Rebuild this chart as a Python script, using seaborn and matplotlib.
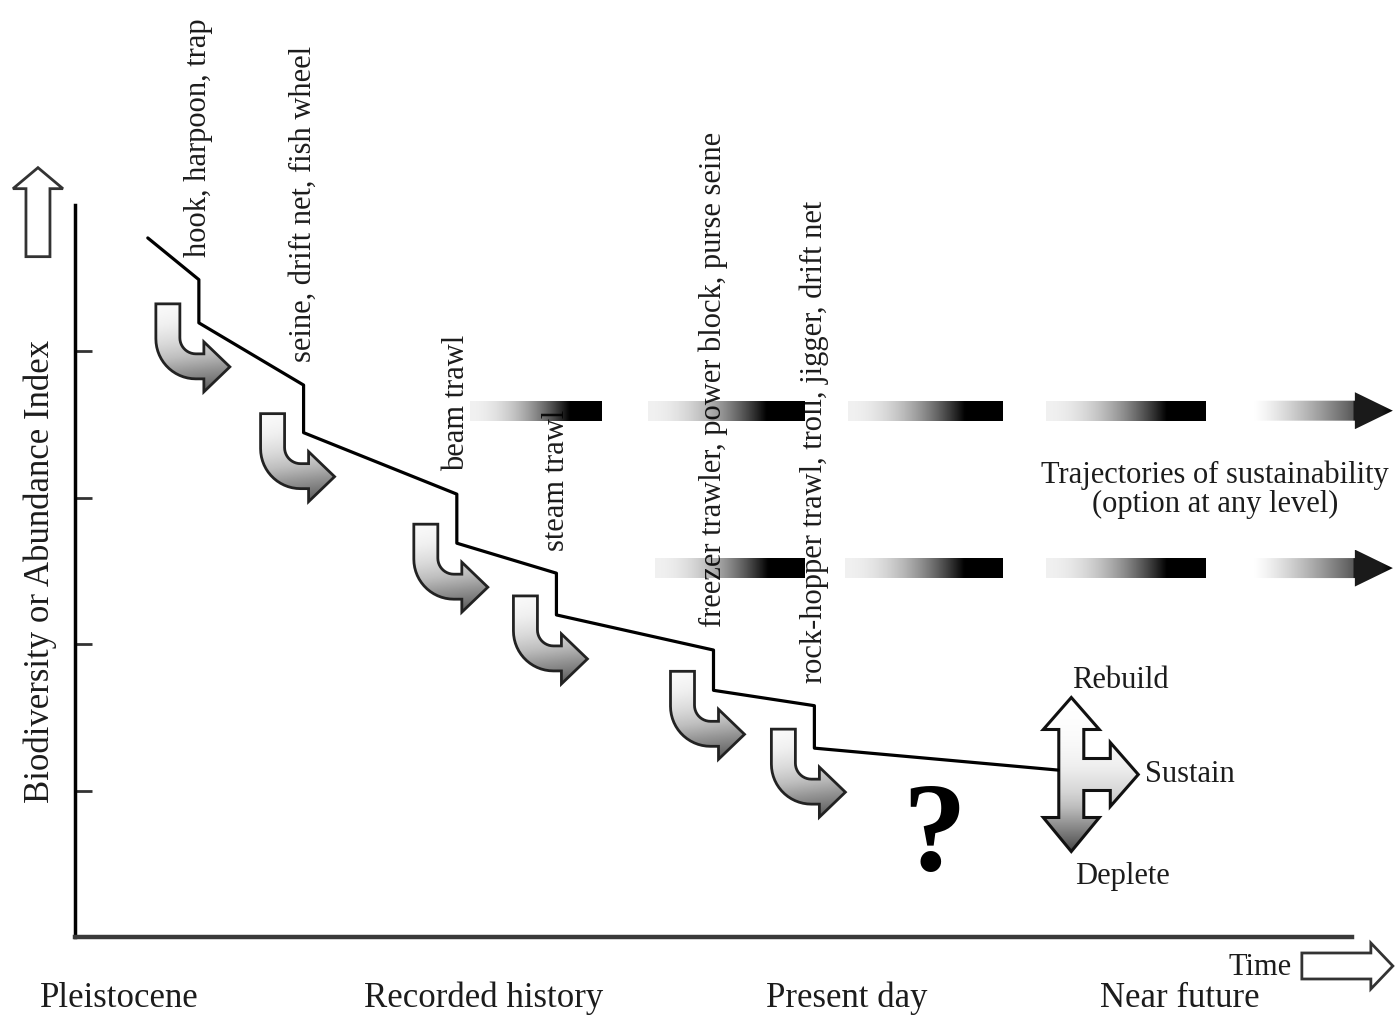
import matplotlib
matplotlib.use('Agg')
import matplotlib.pyplot as plt
import numpy as np
import pandas as pd
import seaborn as sns
from matplotlib.patches import Polygon

# biodiversity staircase: each new gear causes a drop in the index
start_x, start_y = 5.7, 95.5
gear_x = [9.7, 17.9, 29.9, 37.7, 50.0, 57.9]
level_before = [89.8, 75.4, 60.5, 49.7, 39.2, 31.6]
level_after = [83.9, 68.9, 53.8, 44.0, 33.7, 25.8]
end_x, end_y = 77.0, 22.8
gear_labels = ['hook, harpoon, trap',
               'seine, drift net, fish wheel',
               'beam trawl',
               'steam trawl',
               'freezer trawler, power block, purse seine',
               'rock-hopper trawl, troll, jigger, drift net']

y_ticks = [20, 40, 60, 80]

# trajectories of sustainability (two example levels)
traj_levels = [71.9, 50.4]
traj_starts = [[30.9, 44.9, 60.5, 76.0, 92.2],
               [45.4, 60.3, 76.0, 92.2]]
traj_ends = [[41.3, 57.2, 72.7, 88.6, 103.2],
             [57.2, 72.7, 88.6, 103.2]]

era_labels = ['Pleistocene', 'Recorded history', 'Present day', 'Near future']
era_x = [3.5, 32.0, 60.4, 86.5]

options = ['Rebuild', 'Sustain', 'Deplete']

# pixel -> data scale (axis spans 0..100 on both directions)
SX, SY = 12.77, 7.32

sns.set_theme(style='white')
plt.rcParams['font.family'] = ['Liberation Serif', 'DejaVu Serif']
TXT = '#1c1c1c'

fig = plt.figure(figsize=(13.95, 10.16), dpi=100)
ax = fig.add_axes([0, 0, 1, 1])
ax.set_facecolor('white')


def px(x0, y0, pts):
    # convert pixel offsets (x right, y up) into data coords around (x0, y0)
    return [(x0 + dx / SX, y0 + dy / SY) for dx, dy in pts]


def gradient_fill(verts, values, cmap='Greys', zorder=3, edge='#222222', lw=2.0, rgba=None):
    poly = Polygon(verts, closed=True, facecolor='none', edgecolor=edge, lw=lw, zorder=zorder + 0.1)
    ax.add_patch(poly)
    xs = [v[0] for v in verts]
    ys = [v[1] for v in verts]
    ext = [min(xs), max(xs), min(ys), max(ys)]
    if rgba is not None:
        im = ax.imshow(rgba, extent=ext, origin='lower', aspect='auto',
                       interpolation='bilinear', zorder=zorder)
    else:
        im = ax.imshow(values, extent=ext, origin='lower', aspect='auto', cmap=cmap,
                       vmin=0, vmax=1, interpolation='bilinear', zorder=zorder)
    im.set_clip_path(poly)


# ---- staircase line
line_x = [start_x]
line_y = [start_y]
for gx, yb, ya in zip(gear_x, level_before, level_after):
    line_x += [gx, gx]
    line_y += [yb, ya]
line_x.append(end_x)
line_y.append(end_y)
df = pd.DataFrame({'time': line_x, 'index': line_y})
sns.lineplot(data=df, x='time', y='index', ax=ax, estimator=None, sort=False,
             color='black', linewidth=2.3, zorder=4)

# ---- gear labels
for gx, yb, lab in zip(gear_x, level_before, gear_labels):
    ax.text(gx, yb + 3.1, lab, rotation=90, ha='center', va='bottom',
            fontsize=22, color=TXT, zorder=2)

# ---- curved U arrows below each drop
W = 24
inner = [(W + 16 + 16 * np.cos(a), -34 + 16 * np.sin(a)) for a in np.linspace(np.pi, 1.5 * np.pi, 12)]
outer = [(40 + 40 * np.cos(a), -35 + 40 * np.sin(a)) for a in np.linspace(1.5 * np.pi, np.pi, 16)]
u_shape = [(0, 0), (W, 0)] + inner + [(48, -50), (48, -38), (74, -63), (48, -88), (48, -75)] + outer
gy = np.linspace(0, 1, 60)[:, None]
gxx = np.linspace(0, 1, 40)[None, :]
u_vals = 0.62 * (1 - gy) ** 1.4 + 0.04 + 0.08 * gxx
for gx, ya in zip(gear_x, level_after):
    verts = px(gx - 43 / SX, ya + 19 / SY, u_shape)
    gradient_fill(verts, u_vals, zorder=3)

# ---- trajectories of sustainability
half_bar, half_head, head_len = 10 / SY, 18.5 / SY, 38 / SX
for lvl, starts, ends in zip(traj_levels, traj_starts, traj_ends):
    for i, (s, e) in enumerate(zip(starts, ends)):
        t = np.linspace(0, 1, 200)
        last = i == len(starts) - 1
        if last:
            a = np.clip(t, 0, 1) ** 1.3
            a = np.where(t > 0.72, np.maximum(a, 0.9), a)
        else:
            a = 0.06 + 0.94 * np.clip(t / 0.75, 0, 1) ** 2
        rgba = np.zeros((2, len(t), 4))
        rgba[..., 3] = a[None, :]
        if last:
            hb = e - head_len
            verts = [(s, lvl - half_bar), (hb, lvl - half_bar), (hb, lvl - half_head), (e, lvl),
                     (hb, lvl + half_head), (hb, lvl + half_bar), (s, lvl + half_bar)]
        else:
            verts = [(s, lvl - half_bar), (e, lvl - half_bar), (e, lvl + half_bar), (s, lvl + half_bar)]
        gradient_fill(verts, None, zorder=3, edge='none', lw=0, rgba=rgba)

ax.text(89.3, 61.1, 'Trajectories of sustainability\n(option at any level)', ha='center',
        va='center', fontsize=22, color=TXT, linespacing=1.0)

# ---- rebuild / sustain / deplete cross arrow
cx, cy = end_x + 13 / SX, end_y - 0.6
cross = [(0, 77), (28, 45), (12.5, 45), (12.5, 16), (39, 16), (39, 32), (67, 0), (39, -32),
         (39, -16), (12.5, -16), (12.5, -43), (28, -43), (0, -77), (-28, -43), (-12.5, -43),
         (-12.5, 45), (-28, 45)]
cy_vals = 0.78 * (1 - np.linspace(0, 1, 80)) ** 2.2
gradient_fill(px(cx, cy, cross), np.tile(cy_vals[:, None], (1, 10)), zorder=3, edge='#111111', lw=2.2)
ax.text(cx + 49 / SX, cy + 94 / SY, options[0], ha='center', va='center', fontsize=22, color=TXT)
ax.text(cx + 74 / SX, cy, options[1], ha='left', va='center', fontsize=22, color=TXT)
ax.text(cx + 51 / SX, cy - 102 / SY, options[2], ha='center', va='center', fontsize=22, color=TXT)

# question mark: unknown outcome from the present
ax.text(67.3, 13.3, '?', ha='center', va='center', fontsize=92, fontweight='bold', color='black')

# ---- axes
ax.spines['top'].set_visible(False)
ax.spines['right'].set_visible(False)
ax.spines['left'].set_position(('data', 0))
ax.spines['bottom'].set_position(('data', 0))
ax.spines['left'].set_bounds(0, 100)
ax.spines['bottom'].set_bounds(0, 100)
ax.spines['left'].set_color('black')
ax.spines['left'].set_linewidth(2.5)
ax.spines['bottom'].set_color('#3a3a3a')
ax.spines['bottom'].set_linewidth(3.2)
ax.set_yticks(y_ticks)
ax.set_xticks([])
ax.tick_params(axis='y', left=True, direction='in', length=12, width=2, color='#333333', labelleft=False)
ax.set_xlabel('')
ax.set_ylabel('')

ax.text(-2.74, 49.9, 'Biodiversity or Abundance Index', rotation=90, ha='center', va='center',
        fontsize=25, color=TXT)
# hollow axis arrows
up_arrow = [(0, 0), (25, -21), (12, -21), (12, -89), (-12, -89), (-12, -21), (-25, -21)]
ax.add_patch(Polygon(px(-2.9, 105.1, up_arrow), closed=True, facecolor='white', edgecolor='#333333', lw=2))
right_arrow = [(0, 0), (-22, 23), (-22, 13), (-91, 13), (-91, -13), (-22, -13), (-22, -23)]
ax.add_patch(Polygon(px(103.2, -3.96, right_arrow), closed=True, facecolor='white', edgecolor='#333333', lw=2))
ax.text(95.3, -5.19, 'Time', ha='right', va='baseline', fontsize=22, color=TXT)

for lab, x in zip(era_labels, era_x):
    ax.text(x, -9.5, lab, ha='center', va='baseline', fontsize=25, color=TXT)

ax.set_xlim(-75 / SX, 1320 / SX)
ax.set_ylim(-79 / SY, 937 / SY)

fig.savefig('out.png', dpi=100)
